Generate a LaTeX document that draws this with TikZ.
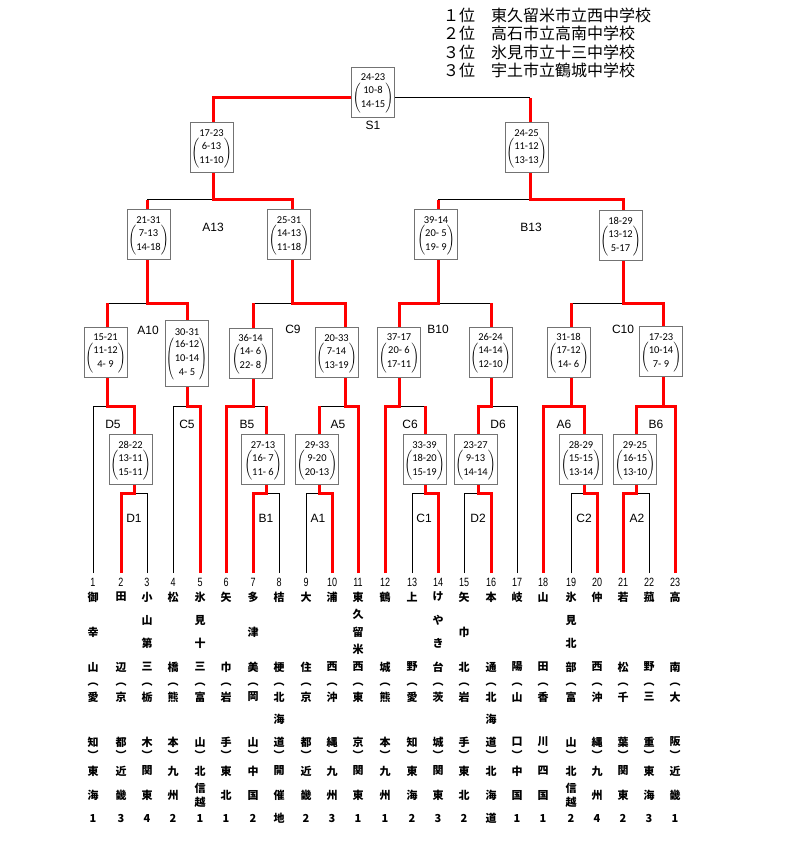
\documentclass[tikz,border=0pt]{standalone}
\usepackage{fontspec}
\setmainfont{Liberation Sans}
\newfontfamily\cjk{Noto Sans CJK JP}
\newfontfamily\carl{Carlito}
\newcommand\mscore[2]{\begin{tabular}{@{}c@{}}#1\\[-2pt]$\left(\vcenter{\hbox{\begin{tabular}{@{}c@{}}#2\end{tabular}}}\right)$\end{tabular}}
\newcommand\mscorew[2]{\begin{tabular}{@{}c@{}}#1\\[-2pt]$\vcenter{\hbox{\scalebox{1}[1.4]{$\Bigg($}}}\vcenter{\hbox{\begin{tabular}{@{}c@{}}#2\end{tabular}}}\vcenter{\hbox{\scalebox{1}[1.4]{$\Bigg)$}}}$\end{tabular}}
\begin{document}
\begin{tikzpicture}[x=1pt,y=-1pt,
  blk/.style={line width=1pt,black},
  rd/.style={line width=3pt,red,line join=miter},
  sbox/.style={draw=black!55,fill=white,line width=0.8pt,inner sep=0pt,minimum width=43pt,minimum height=50pt,font=\carl\fontsize{10.5}{14}\selectfont},
  lbl/.style={font=\fontsize{12}{12}\selectfont,inner sep=0pt},
  numb/.style={font=\fontsize{12}{12}\selectfont,inner sep=0pt},
  jt/.style={font=\cjk\bfseries\fontsize{11}{14}\selectfont,inner sep=0pt,align=center},
  ttl/.style={font=\cjk\fontsize{16}{18}\selectfont,inner sep=0pt,anchor=west}]
\useasboundingbox (0,0) rectangle (800,842);

% ---- title ----
\node[ttl] (r1) at (443,15) {１位　東久留米市立西中学校};
\node[ttl] (r2) at (443,33) {２位　高石市立高南中学校};
\node[ttl] (r3) at (443,52) {３位　氷見市立十三中学校};
\node[ttl] (r4) at (443,70) {３位　宇土市立鶴城中学校};

% ---- black lines ----
\foreach \x/\y in {93/406,147/493,173/406,279/493,306/493,412/493,464/493,517/406,571/493,649/493}
  \draw[blk] (\x,573) -- (\x,\y);
\foreach \a/\b in {134/147,266/279,306/319,412/425,464/478,571/584,636/649}
  \draw[blk] (\a,493) -- (\b,493);
\foreach \a/\b in {93/107,173/187,253/266,319/345,399/425,491/517}
  \draw[blk] (\a,406) -- (\b,406);
\foreach \a/\b in {107/147,253/292,438/491,571/623}
  \draw[blk] (\a,303) -- (\b,303);
\foreach \a/\b in {147/213,438/530}
  \draw[blk] (\a,200) -- (\b,200);
\draw[blk] (373,98) -- (530,98);

% ---- red (winner) paths ----
\draw[rd] (358,573)--(358,406)--(345,406)--(345,303)--(292,303)--(292,200)--(213,200)--(213,98)--(373,98);
\draw[rd] (675,573)--(675,406)--(663,406)--(663,303)--(623,303)--(623,200)--(530,200)--(530,98);
\draw[rd] (200,573)--(200,406)--(187,406)--(187,303)--(147,303)--(147,200);
\draw[rd] (385,573)--(385,406)--(399,406)--(399,303)--(438,303)--(438,200);
\draw[rd] (121,573)--(121,493)--(134,493)--(134,406)--(107,406)--(107,303);
\draw[rd] (226,573)--(226,406)--(253,406)--(253,303);
\draw[rd] (491,573)--(491,493)--(478,493)--(478,406)--(491,406)--(491,303);
\draw[rd] (543,573)--(543,406)--(571,406)--(571,303);
\draw[rd] (253,573)--(253,493)--(266,493)--(266,406);
\draw[rd] (332,573)--(332,493)--(319,493)--(319,406);
\draw[rd] (438,573)--(438,493)--(425,493)--(425,406);
\draw[rd] (597,573)--(597,493)--(584,493)--(584,406)--(571,406);
\draw[rd] (623,573)--(623,493)--(636,493)--(636,406)--(663,406);

% ---- score boxes ----
\node[sbox] (bS1) at (373,92) {\mscore{24-23}{10-8\\14-15}};
\node[sbox] (bA13) at (211.5,147.5) {\mscore{17-23}{6-13\\11-10}};
\node[sbox] (bB13) at (526.5,147.5) {\mscore{24-25}{11-12\\13-13}};
\node[sbox] (bA10) at (148.5,234.5) {\mscore{21-31}{7-13\\14-18}};
\node[sbox] (bC9) at (289,234.5) {\mscore{25-31}{14-13\\11-18}};
\node[sbox] (bB10) at (436,234.5) {\mscore{39-14}{20- 5\\19- 9}};
\node[sbox] (bC10) at (620.5,235.5) {\mscore{18-29}{13-12\\5-17}};
\node[sbox] (bD5) at (105.5,352) {\mscore{15-21}{11-12\\4- 9}};
\node[sbox,minimum height=66pt] (bC5) at (187,353) {\mscorew{30-31}{16-12\\10-14\\4- 5}};
\node[sbox] (bB5) at (250.5,353) {\mscore{36-14}{14- 6\\22- 8}};
\node[sbox] (bA5) at (336.5,352.5) {\mscore{20-33}{7-14\\13-19}};
\node[sbox] (bC6) at (399,352) {\mscore{37-17}{20- 6\\17-11}};
\node[sbox] (bD6) at (490.5,352) {\mscore{26-24}{14-14\\12-10}};
\node[sbox] (bA6) at (568.5,352) {\mscore{31-18}{17-12\\14- 6}};
\node[sbox] (bB6) at (661,351.5) {\mscore{17-23}{10-14\\7- 9}};
\node[sbox] (bD1) at (130.5,459.5) {\mscore{28-22}{13-11\\15-11}};
\node[sbox] (bB1) at (263,459.5) {\mscore{27-13}{16- 7\\11- 6}};
\node[sbox] (bA1) at (317,459.5) {\mscore{29-33}{9-20\\20-13}};
\node[sbox] (bC1) at (424.5,459.5) {\mscore{33-39}{18-20\\15-19}};
\node[sbox] (bD2) at (475.5,459.5) {\mscore{23-27}{9-13\\14-14}};
\node[sbox] (bC2) at (581,459.5) {\mscore{28-29}{15-15\\13-14}};
\node[sbox] (bA2) at (635,459.5) {\mscore{29-25}{16-15\\13-10}};

% ---- match labels ----
\foreach \t/\x/\y in {S1/373/125,A13/213/227,B13/531/227,A10/148/330,C9/293/329,B10/438/329,C10/623/329,
  D5/113/424,C5/187/424,B5/247/424,A5/338/424,C6/410/424,D6/498/424,A6/564/424,B6/656/424,
  D1/134/518,B1/266/518,A1/318/518,C1/424/518,D2/478/518,C2/584/518,A2/637/518}
  \node[lbl] (l\t) at (\x,\y) {\t};

% ---- player numbers ----
\foreach \x [count=\i] in {93,121,147,173,200,226,253,279,306,332,358,385,412,438,464,491,517,543,571,597,623,649,675}
  \node[numb] (n\i) at (\x,582) {\scalebox{0.75}[1]{\i}};

% ---- school names ----
\foreach \x/\cnt/\nm/\pcn/\pf/\rg/\rk [count=\i] in {
 93/3/{御,幸,山}/2/{愛,知}/{東,海}/1,
 121/2/{田,辺}/2/{京,都}/{近,畿}/3,
 147/4/{小,山,第,三}/2/{栃,木}/{関,東}/4,
 173/2/{松,橋}/2/{熊,本}/{九,州}/2,
 200/4/{氷,見,十,三}/2/{富,山}/{北,{信\\越}}/1,
 226/2/{矢,巾}/2/{岩,手}/{東,北}/1,
 253/3/{多,津,美}/2/{岡,山}/{中,国}/2,
 279/2/{桔,梗}/3/{北,海,道}/{開,催}/地,
 306/2/{大,住}/2/{京,都}/{近,畿}/2,
 332/2/{浦,西}/2/{沖,縄}/{九,州}/3,
 358/5/{東,久,留,米,西}/2/{東,京}/{関,東}/1,
 385/2/{鶴,城}/2/{熊,本}/{九,州}/1,
 412/2/{上,野}/2/{愛,知}/{東,海}/2,
 438/4/{け,や,き,台}/2/{茨,城}/{関,東}/3,
 464/3/{矢,巾,北}/2/{岩,手}/{東,北}/2,
 491/2/{本,通}/3/{北,海,道}/{北,海}/道,
 517/2/{岐,陽}/2/{山,口}/{中,国}/1,
 543/2/{山,田}/2/{香,川}/{四,国}/1,
 571/4/{氷,見,北,部}/2/{富,山}/{北,{信\\越}}/2,
 597/2/{仲,西}/2/{沖,縄}/{九,州}/4,
 623/2/{若,松}/2/{千,葉}/{関,東}/2,
 649/2/{菰,野}/2/{三,重}/{東,海}/3,
 675/2/{高,南}/2/{大,阪}/{近,畿}/1}{
  \foreach \c [count=\k] in \nm {
    \pgfmathsetmacro\yy{597+70*(\k-1)/(\cnt-1)}
    \node[jt] (a\i-\k) at (\x,\yy) {\c};
  }
  \node[jt] (b\i) at (\x,685) {︵};
  \foreach \c [count=\k] in \pf {
    \pgfmathsetmacro\yy{697+45*(\k-1)/(\pcn-1)}
    \node[jt] (c\i-\k) at (\x,\yy) {\c};
  }
  \node[jt] (d\i) at (\x,755) {︶};
  \foreach \c [count=\k] in \rg {
    \pgfmathsetmacro\yy{771+24*(\k-1)}
    \node[jt] (e\i-\k) at (\x,\yy) {\c};
  }
  \node[jt] (f\i) at (\x,818) {\rk};
}
\end{tikzpicture}
\end{document}
